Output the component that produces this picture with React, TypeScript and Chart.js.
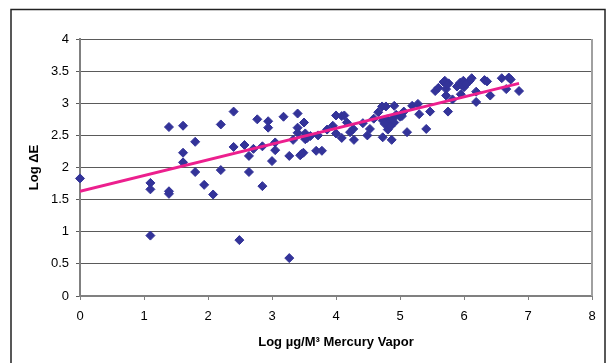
import React, { useEffect, useRef } from "react";
import { Chart, registerables } from "chart.js";

Chart.register(...registerables);

// Scatter data: log concentration (x) vs log ΔE (y)
const pointX = [
  0, 1.1, 1.1, 1.1, 1.39, 1.39, 1.39, 1.61, 1.61, 1.61,
  1.8, 1.8, 1.94, 2.08, 2.2, 2.2, 2.4, 2.4, 2.49, 2.57,
  2.64, 2.64, 2.71, 2.77, 2.85, 2.85, 2.94, 2.94, 3.0, 3.05,
  3.05, 3.18, 3.27, 3.27, 3.33, 3.4, 3.4, 3.4, 3.44, 3.49,
  3.5, 3.52, 3.52, 3.56, 3.6, 3.69, 3.72, 3.78, 3.86, 3.95,
  4.0, 4.0, 4.09, 4.09, 4.13, 4.17, 4.22, 4.27, 4.28, 4.42,
  4.49, 4.53, 4.59, 4.66, 4.72, 4.73, 4.73, 4.78, 4.8, 4.81,
  4.83, 4.87, 4.91, 4.91, 4.94, 5.0, 5.06, 5.11, 5.19, 5.28,
  5.3, 5.41, 5.47, 5.55, 5.6, 5.7, 5.72, 5.72, 5.76, 5.75,
  5.82, 5.89, 5.94, 5.95, 5.99, 6.0, 6.05, 6.09, 6.12, 6.19,
  6.19, 6.32, 6.36, 6.41, 6.59, 6.66, 6.7, 6.73, 6.86,
  4.76, 4.85, 4.88, 5.03, 3.46, 3.55, 5.68, 5.74, 5.97, 6.03,
];
const pointY = [
  1.83, 1.76, 1.66, 0.94, 2.63, 1.63, 1.59, 2.65, 2.23, 2.08,
  2.4, 1.93, 1.73, 1.58, 2.67, 1.96, 2.87, 2.32, 0.87, 2.35,
  2.18, 1.93, 2.29, 2.75, 2.33, 1.71, 2.72, 2.62, 2.1, 2.39,
  2.27, 2.79, 2.18, 0.59, 2.43, 2.84, 2.62, 2.54, 2.19, 2.23,
  2.7, 2.53, 2.44, 2.48, 2.49, 2.26, 2.5, 2.26, 2.59, 2.65,
  2.81, 2.53, 2.8, 2.46, 2.81, 2.7, 2.55, 2.6, 2.43, 2.69,
  2.5, 2.6, 2.76, 2.86, 2.95, 2.73, 2.47, 2.95, 2.75, 2.59,
  2.71, 2.43, 2.96, 2.7, 2.82, 2.79, 2.87, 2.55, 2.96, 2.99,
  2.83, 2.6, 2.87, 3.19, 3.24, 3.35, 3.22, 3.12, 3.31, 2.87,
  3.06, 3.26, 3.32, 3.14, 3.35, 3.25, 3.31, 3.35, 3.39, 3.18,
  3.02, 3.36, 3.34, 3.12, 3.39, 3.22, 3.4, 3.37, 3.19,
  2.68, 2.64, 2.75, 2.8, 2.21, 2.46, 3.33, 3.29, 3.28, 3.3,
];

// Linear trend line end points
const trendX = [0, 6.86];
const trendY = [1.63, 3.31];

// Axis ranges / steps
const xRange = [0, 8];
const yRange = [0, 4];
const xStep = 1;
const yStep = 0.5;

const xTitle = "Log \u00b5g/M\u00b3 Mercury Vapor";
const yTitle = "Log \u0394E";

const framePlugin = {
  id: "frame",
  beforeDraw(chart: any) {
    const { ctx, width, height } = chart;
    ctx.save();
    ctx.fillStyle = "#ffffff";
    ctx.fillRect(0, 0, width, height);
    ctx.restore();
  },
  afterDraw(chart: any) {
    const { ctx, chartArea } = chart;
    ctx.save();
    ctx.strokeStyle = "#a0a0a0";
    ctx.lineWidth = 2;
    ctx.beginPath();
    ctx.moveTo(chartArea.right, chartArea.top);
    ctx.lineTo(chartArea.right, chartArea.bottom);
    ctx.stroke();
    ctx.strokeStyle = "#222222";
    ctx.lineWidth = 1.5;
    ctx.strokeRect(11, 9.5, 594, 400);
    ctx.restore();
  },
};

export default function App() {
  const ref = useRef<HTMLCanvasElement | null>(null);

  useEffect(() => {
    document.body.style.margin = "0";
    const canvas = ref.current;
    if (!canvas) return;
    const font = "'Liberation Sans', Arial, sans-serif";
    const chart = new Chart(canvas, {
      type: "scatter",
      data: {
        datasets: [
          {
            type: "line",
            label: "Trend",
            data: trendX.map((x, i) => ({ x, y: trendY[i] })),
            borderColor: "#ec1f8e",
            borderWidth: 3,
            pointRadius: 0,
            fill: false,
            tension: 0,
          } as any,
          {
            label: "Data",
            data: pointX.map((x, i) => ({ x, y: pointY[i] })),
            pointStyle: "rectRot",
            pointRadius: 4.5,
            backgroundColor: "#333399",
            borderColor: "#333399",
            borderWidth: 1,
            clip: false,
          } as any,
        ],
      },
      options: {
        responsive: false,
        animation: false,
        events: [],
        layout: { padding: { left: 27, right: 18, top: 39, bottom: 9 } },
        plugins: {
          legend: { display: false },
          tooltip: { enabled: false },
        },
        scales: {
          x: {
            type: "linear",
            min: xRange[0],
            max: xRange[1],
            ticks: {
              stepSize: xStep,
              color: "#000",
              padding: 9,
              font: { family: font, size: 13 },
              callback: (v: any) => String(v),
            },
            grid: {
              drawOnChartArea: false,
              drawTicks: true,
              tickLength: 4,
              color: "#808080",
              lineWidth: 1,
            },
            border: { color: "#808080", width: 2 },
            title: {
              display: true,
              text: xTitle,
              color: "#000",
              font: { family: font, size: 13, weight: "bold" },
              padding: { top: 4, bottom: 4 },
            },
            afterFit: (scale: any) => {
              scale.height = 58;
            },
          },
          y: {
            type: "linear",
            min: yRange[0],
            max: yRange[1],
            ticks: {
              stepSize: yStep,
              color: "#000",
              padding: 7,
              font: { family: font, size: 13 },
              callback: (v: any) => String(v),
            },
            grid: {
              color: "#5a5a5a",
              lineWidth: 1,
              tickLength: 4,
            },
            border: { color: "#808080", width: 2 },
            title: {
              display: true,
              text: yTitle,
              color: "#000",
              font: { family: font, size: 13, weight: "bold" },
              padding: { top: 0, bottom: 0 },
            },
            afterFit: (scale: any) => {
              scale.width = 53;
            },
          },
        },
      },
      plugins: [framePlugin],
    });
    return () => chart.destroy();
  }, []);

  return (
    <div style={{ width: 610, height: 363, position: "relative", background: "#fff" }}>
      <canvas ref={ref} width={610} height={363} style={{ display: "block" }} />
    </div>
  );
}
